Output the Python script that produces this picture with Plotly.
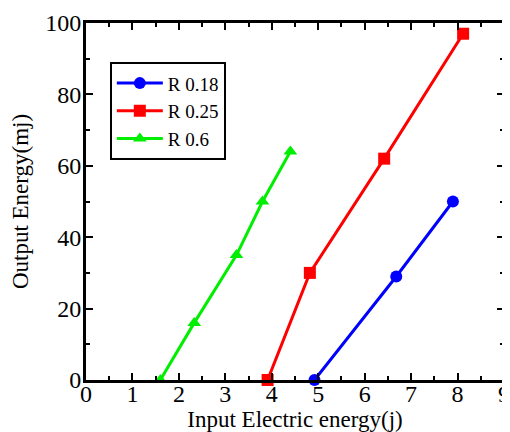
import plotly.graph_objects as go

x_r018 = [4.92, 6.68, 7.9]
y_r018 = [0, 29, 50]
x_r025 = [3.91, 4.82, 6.42, 8.12]
y_r025 = [0, 30, 62, 97]
x_r06 = [1.6, 2.33, 3.24, 3.8, 4.4]
y_r06 = [0, 16, 35, 50, 64]

series = [
    ("R 0.18", x_r018, y_r018, "#0000ff", "circle"),
    ("R 0.25", x_r025, y_r025, "#ff0000", "square"),
    ("R 0.6", x_r06, y_r06, "#00ee00", "triangle-up"),
]

fig = go.Figure()
for name, xs, ys, col, sym in series:
    fig.add_trace(go.Scatter(x=xs, y=ys, name=name, mode="lines+markers",
                             line=dict(color=col, width=3),
                             marker=dict(color=col, symbol=sym, size=12),
                             cliponaxis=False))

FAM = "Liberation Serif, Times New Roman, serif"
tickfont = dict(family=FAM, size=24, color="black")
titlefont = dict(family=FAM, size=23, color="black")
axis_common = dict(showline=True, linewidth=3, linecolor="black", mirror="allticks",
                   ticks="inside", ticklen=7, tickwidth=1.5, tickcolor="black",
                   showgrid=False, zeroline=False, tickfont=tickfont, automargin=False)
fig.update_xaxes(range=[0, 9], dtick=1, ticklabelstandoff=-10,
                 title=dict(text="Input Electric energy(j)", font=titlefont, standoff=10),
                 minor=dict(dtick=0.5, ticks="inside", ticklen=4, tickcolor="black", tickwidth=1.5),
                 **axis_common)
fig.update_yaxes(range=[0, 100], dtick=20, ticklabelstandoff=-3,
                 title=dict(text="Output Energy(mj)", font=titlefont, standoff=13),
                 minor=dict(dtick=10, ticks="inside", ticklen=4, tickcolor="black", tickwidth=1.5),
                 **axis_common)
fig.update_layout(
    width=502, height=424,
    margin=dict(l=78, r=6, t=15, b=52, autoexpand=False),
    plot_bgcolor="white", paper_bgcolor="white",
    font=tickfont,
    legend=dict(x=0.057, y=0.89, xanchor="left", yanchor="top",
                bordercolor="black", borderwidth=2, bgcolor="white",
                font=dict(family=FAM, size=19, color="black"),
                itemwidth=46, tracegroupgap=0),
    showlegend=True,
)
fig.write_html("out.html")
